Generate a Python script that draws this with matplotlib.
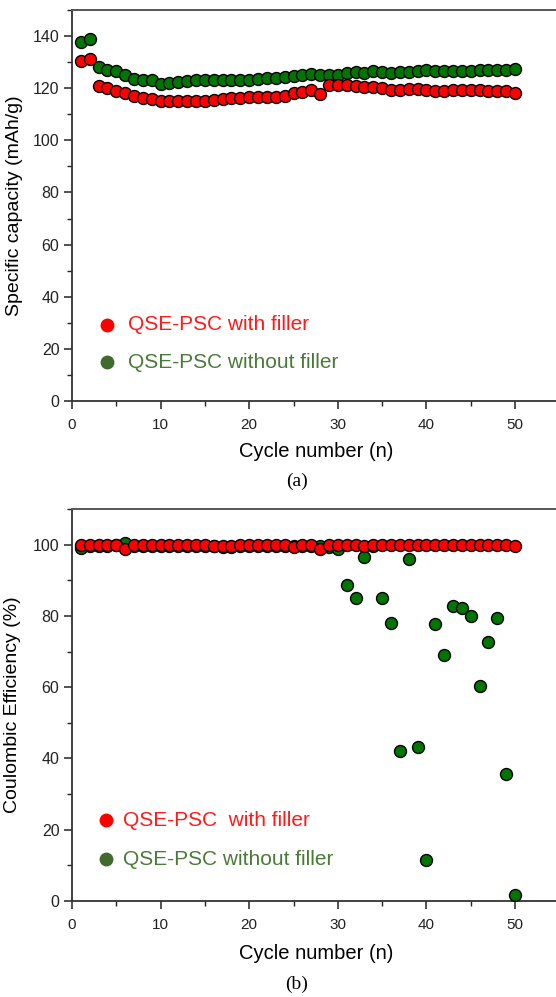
import matplotlib
matplotlib.use("Agg")
import matplotlib.pyplot as plt
from matplotlib.ticker import MultipleLocator
from matplotlib.lines import Line2D

plt.rcParams['font.family'] = ['Liberation Sans', 'DejaVu Sans']

cycles = list(range(1, 51))

cap_with = [130.5, 131.1, 120.9, 119.9, 119.0, 118.0, 117.1, 116.2, 115.7, 115.2,
            115.2, 115.2, 115.2, 115.2, 115.2, 115.3, 115.7, 116.1, 116.2, 116.5,
            116.5, 116.7, 116.7, 117.0, 118.2, 118.7, 119.5, 117.8, 121.2, 121.2,
            121.2, 120.7, 120.6, 120.4, 120.0, 119.5, 119.4, 119.7, 119.7, 119.5,
            119.1, 119.1, 119.4, 119.4, 119.5, 119.4, 119.1, 119.1, 118.9, 118.2]
cap_without = [137.8, 138.7, 128.3, 127.1, 126.5, 125.2, 123.6, 123.2, 123.2, 121.7,
               122.1, 122.5, 122.7, 123.0, 123.0, 123.0, 123.1, 123.2, 123.2, 123.3,
               123.6, 124.0, 124.1, 124.2, 124.5, 124.9, 125.5, 125.2, 125.1, 125.0,
               125.8, 126.1, 125.7, 126.5, 126.3, 125.8, 126.1, 126.3, 126.7, 127.1,
               126.5, 126.5, 126.7, 126.7, 126.7, 126.9, 126.9, 126.9, 126.9, 127.3]

ce_with = [100.0, 99.8, 99.8, 99.8, 100.0, 98.7, 99.8, 99.8, 99.8, 99.8,
           99.8, 99.8, 99.8, 99.8, 99.8, 99.6, 99.5, 99.6, 99.8, 99.8,
           99.8, 99.8, 99.8, 99.8, 99.2, 99.8, 99.8, 98.8, 99.8, 99.8,
           99.8, 99.8, 99.6, 99.8, 99.8, 99.8, 99.8, 99.8, 99.8, 99.8,
           99.8, 99.8, 99.8, 99.8, 99.8, 99.8, 99.8, 99.8, 99.8, 99.6]
ce_without = [99.0, 99.6, 99.6, 99.6, 99.8, 100.4, 99.6, 99.6, 99.6, 99.6,
              99.6, 99.6, 99.6, 99.6, 99.6, 99.6, 99.3, 99.3, 99.6, 99.6,
              99.6, 99.6, 99.6, 99.6, 99.6, 99.6, 99.6, 99.6, 99.4, 98.7,
              88.6, 84.9, 96.5, 99.6, 85.1, 77.9, 42.1, 96.1, 43.1, 11.5,
              77.6, 69.0, 82.7, 82.1, 79.9, 60.2, 72.7, 79.5, 35.6, 1.7]

label_with_a = "QSE-PSC with filler"
label_without_a = "QSE-PSC without filler"
label_with_b = "QSE-PSC  with filler"
label_without_b = "QSE-PSC without filler"

W, H = 556, 997
fig = plt.figure(figsize=(W / 100, H / 100), dpi=100)

RED = '#ff0000'
GREEN = '#007500'
LEG_GREEN = '#416b2e'
TXT_GREEN = '#4a7a38'


def make_axes(top_px, bottom_px):
    left_px = 72
    width_px = 55 * 8.86
    return fig.add_axes([left_px / W, 1 - bottom_px / H, width_px / W, (bottom_px - top_px) / H])


def style(ax, ymax, ymajor, yminor):
    ax.set_xlim(0, 55)
    ax.set_ylim(0, ymax)
    ax.xaxis.set_major_locator(MultipleLocator(10))
    ax.xaxis.set_minor_locator(MultipleLocator(5))
    ax.yaxis.set_major_locator(MultipleLocator(ymajor))
    ax.yaxis.set_minor_locator(MultipleLocator(yminor))
    ax.tick_params(which='major', direction='out', length=6, width=1.1,
                   colors='#222222', pad=3)
    ax.tick_params(which='minor', direction='out', length=3.5, width=1.0, colors='#222222')
    ax.tick_params(axis='x', which='major', pad=6, labelsize=11)
    ax.tick_params(axis='y', which='major', labelsize=11.5)
    ax.spines['right'].set_visible(False)
    for s in ('left', 'bottom'):
        ax.spines[s].set_linewidth(1.3)
        ax.spines[s].set_color('#333333')
    ax.spines['top'].set_linewidth(1.4)
    ax.spines['top'].set_color('#555555')


mk = dict(marker='o', linestyle='none', markersize=8.6, markeredgewidth=1.0,
          markeredgecolor='black')

# ---------- (a) ----------
ax1 = make_axes(10, 401)
ax1.plot(cycles, cap_without, color=GREEN, markerfacecolor=GREEN, **mk, zorder=3)
ax1.plot(cycles, cap_with, color=RED, markerfacecolor=RED, **mk, zorder=4)
style(ax1, 150, 20, 10)
ax1.set_xlabel("Cycle number (n)", fontsize=14.5)
ax1.xaxis.set_label_coords((316 - 72) / (55 * 8.86), -(451.7 - 401) / 391)
ax1.xaxis.label.set_va('center')
ax1.set_ylabel("Specific capacity (mAh/g)", fontsize=14)
ax1.yaxis.set_label_coords((15 - 72) / (55 * 8.86), 0.5)
ax1.yaxis.label.set_va('center')

for ypx, lab, mc, tc in [(325, label_with_a, RED, '#ff1a1a'),
                         (362.3, label_without_a, LEG_GREEN, TXT_GREEN)]:
    fig.add_artist(Line2D([106.7 / W], [1 - ypx / H], marker='o', markersize=10,
                          color=mc, markeredgewidth=0, linestyle='none'))
    fig.text(128.3 / W, 1 - ypx / H, lab, color=tc, fontsize=15, va='center', ha='left')

fig.text(297 / W, 1 - 481.7 / H, "(a)", family=['Liberation Serif', 'DejaVu Serif'],
         fontsize=14, ha='center', va='center')

# ---------- (b) ----------
ax2 = make_axes(509, 901)
ax2.plot(cycles, ce_without, color=GREEN, markerfacecolor=GREEN, **mk, zorder=3)
ax2.plot(cycles, ce_with, color=RED, markerfacecolor=RED, **mk, zorder=4)
style(ax2, 110, 20, 10)
ax2.set_xlabel("Cycle number (n)", fontsize=14.5)
ax2.xaxis.set_label_coords((316 - 72) / (55 * 8.86), -(953 - 901) / 392)
ax2.xaxis.label.set_va('center')
ax2.set_ylabel("Coulombic Efficiency (%)", fontsize=14)
ax2.yaxis.set_label_coords((13 - 72) / (55 * 8.86), 0.5)
ax2.yaxis.label.set_va('center')

for ypx, lab, mc, tc in [(820, label_with_b, RED, '#ff1a1a'),
                         (859, label_without_b, LEG_GREEN, TXT_GREEN)]:
    fig.add_artist(Line2D([106 / W], [1 - ypx / H], marker='o', markersize=10,
                          color=mc, markeredgewidth=0, linestyle='none'))
    fig.text(123 / W, 1 - ypx / H, lab, color=tc, fontsize=15, va='center', ha='left')

fig.text(297 / W, 1 - 984 / H, "(b)", family=['Liberation Serif', 'DejaVu Serif'],
         fontsize=14, ha='center', va='center')

fig.savefig("out.png", dpi=100)
